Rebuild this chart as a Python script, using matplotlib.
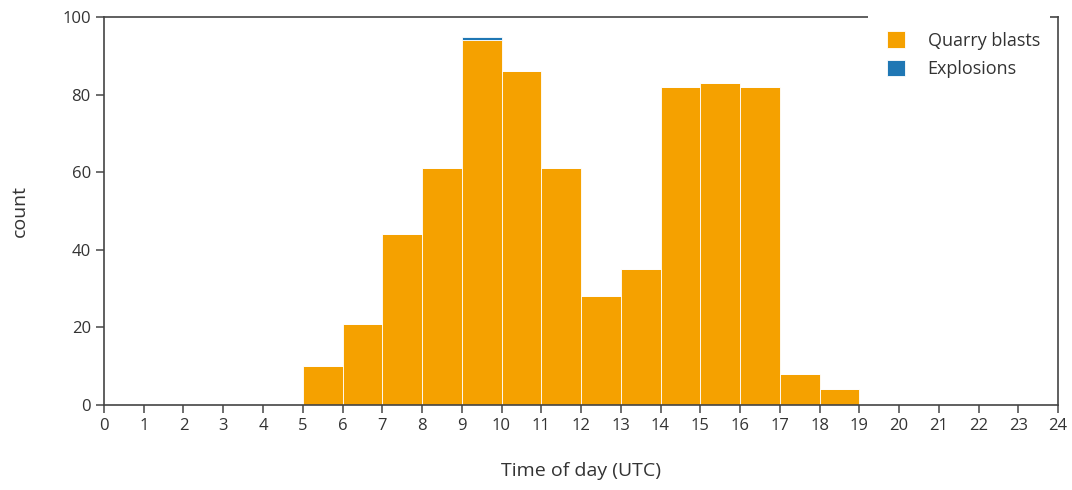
import matplotlib
matplotlib.use("Agg")
import matplotlib.pyplot as plt
import numpy as np

plt.rcParams['font.family'] = ['Open Sans', 'DejaVu Sans']

# hourly bins (UTC) and counts per event type
bin_edges = np.arange(0, 25)
quarry_counts = [0, 0, 0, 0, 0, 10, 21, 44, 61, 94, 86, 61, 28, 35, 82, 83, 82, 8, 4, 0, 0, 0, 0, 0]
explosion_counts = [0, 0, 0, 0, 0, 0, 0, 0, 0, 1, 0, 0, 0, 0, 0, 0, 0, 0, 0, 0, 0, 0, 0, 0]
labels = ["Quarry blasts", "Explosions"]
colors = ["#f5a100", "#1f77b4"]

fig = plt.figure(figsize=(10.72, 4.9), dpi=100)
ax = fig.add_axes([0.097, 0.1735, 0.89, 0.7915])

centers = bin_edges[:-1] + 0.5
ax.hist([centers, centers], bins=bin_edges, weights=[quarry_counts, explosion_counts],
        stacked=True, color=colors, label=labels, edgecolor="white", linewidth=0.6)

ax.set_xlim(0, 24)
ax.set_ylim(0, 100)
ax.set_xticks(bin_edges)
ax.set_yticks([0, 20, 40, 60, 80, 100])
ax.set_xlabel("Time of day (UTC)", fontsize=14, labelpad=20, color="#333333")
ax.set_ylabel("count", fontsize=14, labelpad=24, color="#333333")
ax.tick_params(axis="both", direction="out", length=6, width=1.2, color="#555555",
               labelsize=12, labelcolor="#333333")
for s in ax.spines.values():
    s.set_color("#444444")
    s.set_linewidth(1.2)

leg = ax.legend(loc="upper right", frameon=False, fontsize=13,
                handlelength=1.0, handleheight=1.0, borderpad=0.9, labelspacing=0.55,
                handletextpad=1.25, borderaxespad=0.0, bbox_to_anchor=(0.998, 1.005))
for t in leg.get_texts():
    t.set_color("#333333")

# the legend box sits over the top spine
ax.plot([0.801, 0.9916], [1, 1], transform=ax.transAxes, color="white", lw=3,
        clip_on=False, zorder=5, solid_capstyle="butt")

fig.savefig("out.png", dpi=100)
